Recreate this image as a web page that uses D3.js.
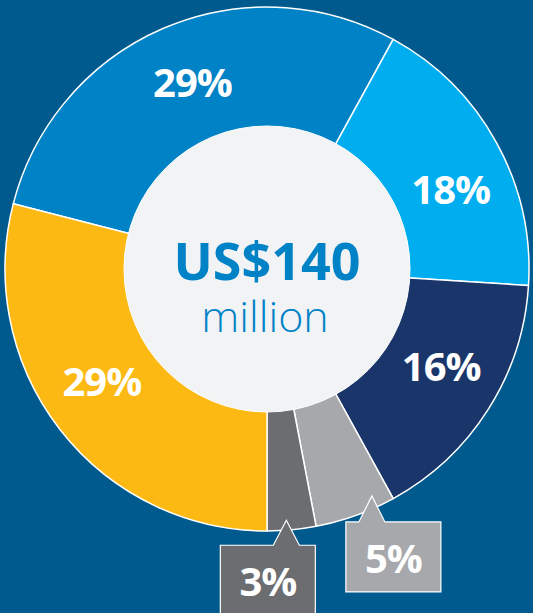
<!DOCTYPE html>
<html><head><meta charset="utf-8">
<script src="https://cdn.jsdelivr.net/npm/d3@7"></script>
<style>html,body{margin:0;padding:0;background:#015a8d;overflow:hidden}</style>
</head><body>
<svg id="c" width="533" height="613"></svg>
<script>
// Data
const categories = ["A", "B", "C", "D", "E", "F"];
const values = [29, 18, 16, 5, 3, 29];
const labels = ["29%", "18%", "16%", "5%", "3%", "29%"];
const colors = ["#0082c6", "#00aeef", "#19356a", "#a6a8ab", "#6c6d71", "#fdb913"];
const centerTitle = "US$140";
const centerSub = "million";

// Layout
const W = 533, H = 613;
const cx = 267, cy = 269, R = 262, r0 = 143;
const startAngle = -75.6 * Math.PI / 180;
const labelR = 200;
// per-slice angular nudge (degrees) for inside labels
const labelNudge = [1.5, 5.5, -3, 0, 0, 3.5];
const insideIdx = [0, 1, 2, 5];
// callouts for small slices: index, apex radius, apex angle nudge, box geometry relative to apex
const callouts = [
  {i: 3, ar: 250, nudge: -5, dx: -26, dy: 26, w: 95, h: 70},
  {i: 4, ar: 252, nudge: 1, dx: -66, dy: 25, w: 95, h: 80}
];

const svg = d3.select("#c");
svg.append("rect").attr("width", W).attr("height", H).attr("fill", "#015a8d");
const g = svg.append("g").attr("transform", `translate(${cx},${cy})`);

const pie = d3.pie().sort(null).value(d => d)
  .startAngle(startAngle).endAngle(startAngle + 2 * Math.PI);
const arcs = pie(values);
const arc = d3.arc().innerRadius(0).outerRadius(R);

g.selectAll("path.slice").data(arcs).enter().append("path")
  .attr("class", "slice")
  .attr("d", arc)
  .attr("fill", (d, i) => colors[i])
  .attr("stroke", "#ffffff").attr("stroke-width", 1.5).attr("stroke-linejoin", "round");

g.append("circle").attr("r", r0).attr("fill", "#f2f3f5")
  .attr("stroke", "#ffffff").attr("stroke-width", 1);

g.append("text").text(centerTitle)
  .attr("x", 0).attr("y", 11).attr("text-anchor", "middle")
  .attr("font-family", "'Open Sans', sans-serif").attr("font-weight", 700)
  .attr("font-size", 52).attr("fill", "#0082c6");
g.append("text").text(centerSub)
  .attr("x", -2).attr("y", 63).attr("text-anchor", "middle")
  .attr("font-family", "'Open Sans', sans-serif").attr("font-weight", 300)
  .attr("font-size", 43).attr("fill", "#0082c6");

// inside labels
insideIdx.forEach(i => {
  const a = arcs[i];
  const mid = (a.startAngle + a.endAngle) / 2 + labelNudge[i] * Math.PI / 180;
  const x = labelR * Math.sin(mid), y = -labelR * Math.cos(mid);
  g.append("text").text(labels[i])
    .attr("x", x).attr("y", y + 14).attr("text-anchor", "middle")
    .attr("font-family", "'Open Sans', sans-serif").attr("font-weight", 700)
    .attr("font-size", 40).attr("fill", "#ffffff").attr("letter-spacing", -1);
});

// callouts
callouts.forEach(c => {
  const a = arcs[c.i];
  const mid = (a.startAngle + a.endAngle) / 2 + c.nudge * Math.PI / 180;
  const ax = c.ar * Math.sin(mid), ay = -c.ar * Math.cos(mid);
  const bx = ax + c.dx, by = ay + c.dy;
  const p = d3.path();
  p.moveTo(bx, by);
  p.lineTo(ax - 13, by);
  p.lineTo(ax, ay);
  p.lineTo(ax + 13, by);
  p.lineTo(bx + c.w, by);
  p.lineTo(bx + c.w, by + c.h);
  p.lineTo(bx, by + c.h);
  p.closePath();
  g.append("path").attr("d", p.toString())
    .attr("fill", colors[c.i]).attr("stroke", "#ffffff").attr("stroke-width", 1.2);
  g.append("text").text(labels[c.i])
    .attr("x", bx + c.w / 2).attr("y", by + 51).attr("text-anchor", "middle")
    .attr("font-family", "'Open Sans', sans-serif").attr("font-weight", 700)
    .attr("font-size", 40).attr("fill", "#ffffff").attr("letter-spacing", -1);
});
</script>
</body></html>
